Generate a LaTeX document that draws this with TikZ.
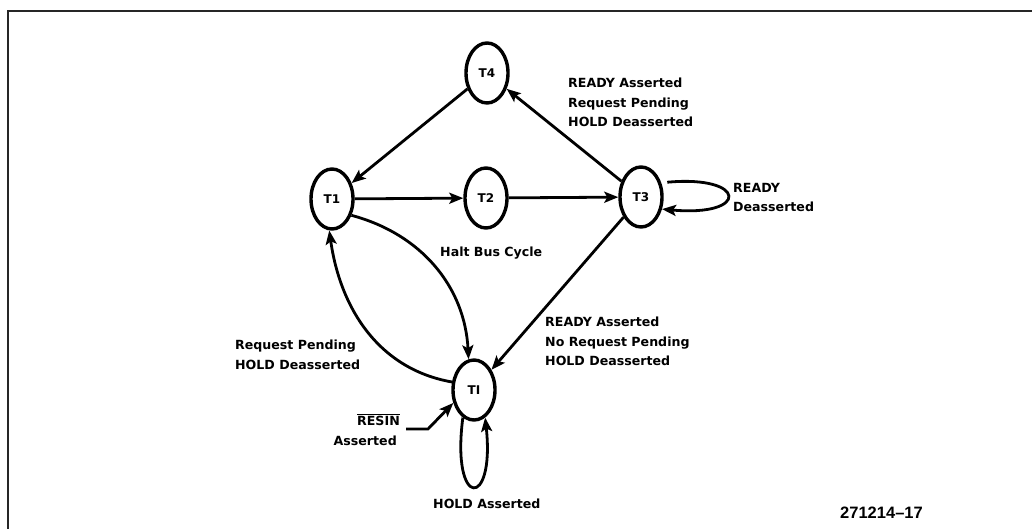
\documentclass[tikz,border=0pt]{standalone}
\usepackage{fontspec}
\setmainfont{DejaVu Sans}
\newfontfamily\lblfont{DejaVu Sans Bold}
\newfontfamily\numfont{Liberation Sans}
\usetikzlibrary{arrows.meta,shapes.geometric}
\begin{document}
\begin{tikzpicture}[x=1pt,y=-1pt,
  state/.style={ellipse,draw,line width=3.4pt,minimum width=42pt,minimum height=60pt,inner sep=0pt,font=\lblfont\fontsize{12}{15}\selectfont},
  conn/.style={line width=2.8pt,-{Stealth[length=14pt,width=11pt,inset=3pt]}},
  lbl/.style={inner sep=0pt,align=left,font=\lblfont\fontsize{12.6}{19.5}\selectfont}]
\useasboundingbox (0,0) rectangle (1032,529);
\draw[line width=2.4pt,black!85] (8,529) -- (8,11) -- (1032,11);
% states
\node[state] (T4) at (487,73) {T4};
\node[state] (T1) at (332,199) {T1};
\node[state] (T2) at (486,198) {T2};
\node[state] (T3) at (641,197) {T3};
\node[state] (TI) at (474,390) {TI};
% connectors
\draw[conn] (T4) -- (T1);
\draw[conn] (T3) -- (T4);
\draw[conn] (T1) -- (T2);
\draw[conn] (T2) -- (T3);
\draw[conn] (T3) -- (TI);
\draw[conn,shorten <=6pt] (T3.35) .. controls +(86,-8) and +(88,8) .. (T3.-30);
\draw[conn] (T1.-40) to[out=-15,in=93] (TI.100);
\draw[conn] (TI.160) to[out=170,in=-82] (T1.-95);
\draw[conn] (TI.-112) .. controls +(-12,92) and +(10,92) .. (TI.-68);
\coordinate (rs) at (406,429);
\draw[conn] (rs) -- ++(22,0) -- (TI.212);
% labels
\node[lbl,anchor=north west] (l1) at (568,78) {READY Asserted\\Request Pending\\HOLD Deasserted};
\node[lbl,anchor=north west] (l2) at (733,183) {READY\\Deasserted};
\node[lbl,anchor=north west] (l3) at (440,247) {Halt Bus Cycle};
\node[lbl,anchor=north west] (l4) at (235,340) {Request Pending\\HOLD Deasserted};
\node[lbl,anchor=north west] (l5) at (545,317) {READY Asserted\\No Request Pending\\HOLD Deasserted};
\node[lbl,anchor=base east] (l6) at (400,425) {$\overline{\mbox{RESIN}}$};
\node[lbl,anchor=base east] (l7) at (397,445) {Asserted};
\node[lbl,anchor=base west] (l8) at (433,508) {HOLD Asserted};
\node[inner sep=0pt,anchor=base west,font=\numfont\bfseries\fontsize{16.5}{18}\selectfont] (l9) at (840,518) {271214–17};
\end{tikzpicture}
\end{document}
